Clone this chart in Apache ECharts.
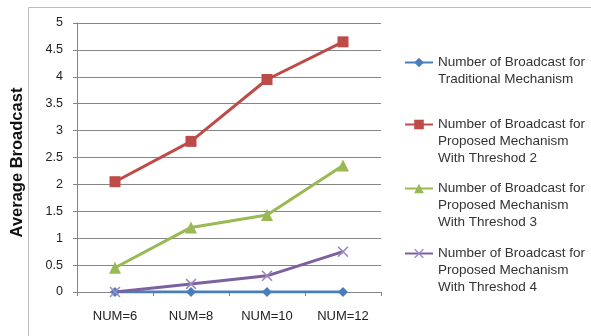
<!DOCTYPE html>
<html>
<head>
<meta charset="utf-8">
<script src="https://cdn.jsdelivr.net/npm/echarts@6/dist/echarts.min.js"></script>
<style>
    html, body { margin: 0; padding: 0; background: #fff; }
    #main { width: 591px; height: 336px; }
</style>
</head>
<body>
<div id="main"></div>
<script>
var categories = ['NUM=6', 'NUM=8', 'NUM=10', 'NUM=12'];
var traditional = [0, 0, 0, 0];
var threshold2 = [2.05, 2.8, 3.95, 4.65];
var threshold3 = [0.45, 1.2, 1.43, 2.35];
var threshold4 = [0, 0.15, 0.3, 0.75];

var names = [
    'Number of Broadcast for\nTraditional Mechanism',
    'Number of Broadcast for\nProposed Mechanism\nWith Threshod 2',
    'Number of Broadcast for\nProposed Mechanism\nWith Threshod 3',
    'Number of Broadcast for\nProposed Mechanism\nWith Threshod 4'
];
var colors = ['#4a7ebb', '#be4b48', '#98b954', '#7d60a0'];
// legend marker centres (first text line)
var legendY = [62, 124, 188, 253];
var lineH = 17;

var xPath = 'path://M0,1L1,0L5,4L9,0L10,1L6,5L10,9L9,10L5,6L1,10L0,9L4,5Z';

function makeLegend(i) {
    var n = names[i].split('\n').length;
    return {
        data: [names[i]],
        left: 404,
        top: legendY[i] - 8 - (n - 1) * lineH,
        padding: 0,
        itemWidth: 28,
        itemHeight: 12,
        // blank lines in front so the marker sits on the first text line
        formatter: function (name) {
            var k = name.split('\n').length;
            return new Array(k).join('\n') + name;
        },
        textStyle: {
            fontFamily: 'Liberation Sans',
            fontSize: 13.5,
            color: '#333',
            lineHeight: lineH
        }
    };
}

function makeSeries(i, data, symbol, size, extra) {
    var s = {
        name: names[i],
        type: 'line',
        data: data,
        symbol: symbol,
        symbolSize: size,
        lineStyle: { color: colors[i], width: 3 },
        itemStyle: { color: colors[i] },
        animation: false
    };
    if (extra) {
        for (var k in extra) s[k] = extra[k];
    }
    return s;
}

var option = {
    backgroundColor: '#fff',
    color: colors,
    graphic: [{
        type: 'rect',
        shape: { x: 28.5, y: 7.5, width: 620, height: 400 },
        style: { fill: 'none', stroke: '#bdbdbd', lineWidth: 1 },
        silent: true
    }],
    legend: [makeLegend(0), makeLegend(1), makeLegend(2), makeLegend(3)],
    grid: { left: 77, right: 210, top: 23, bottom: 44 },
    xAxis: {
        type: 'category',
        data: categories,
        boundaryGap: true,
        axisLine: { lineStyle: { color: '#868686', width: 1 } },
        axisTick: { show: true, length: 4, lineStyle: { color: '#868686' } },
        axisLabel: { fontFamily: 'Liberation Sans', fontSize: 13, color: '#222', margin: 18 }
    },
    yAxis: {
        type: 'value',
        min: 0,
        max: 5,
        interval: 0.5,
        name: 'Average Broadcast',
        nameLocation: 'middle',
        nameGap: 51,
        nameTextStyle: { fontFamily: 'Liberation Sans', fontSize: 16.5, fontWeight: 'bold', color: '#111', padding: [0, 10, 0, 0] },
        axisLine: { show: true, lineStyle: { color: '#868686', width: 1 } },
        axisTick: { show: true, length: 4, lineStyle: { color: '#868686' } },
        axisLabel: { fontFamily: 'Liberation Sans', fontSize: 12.5, color: '#222', margin: 14 },
        splitLine: { lineStyle: { color: '#868686', width: 1 } }
    },
    series: [
        makeSeries(0, traditional, 'diamond', 10),
        makeSeries(1, threshold2, 'rect', 11),
        makeSeries(2, threshold3, 'triangle', 12),
        makeSeries(3, threshold4, xPath, 11, { itemStyle: { color: '#9c89c2' } })
    ]
};

var myChart = echarts.init(document.getElementById('main'));
myChart.setOption(option);
</script>
</body>
</html>
